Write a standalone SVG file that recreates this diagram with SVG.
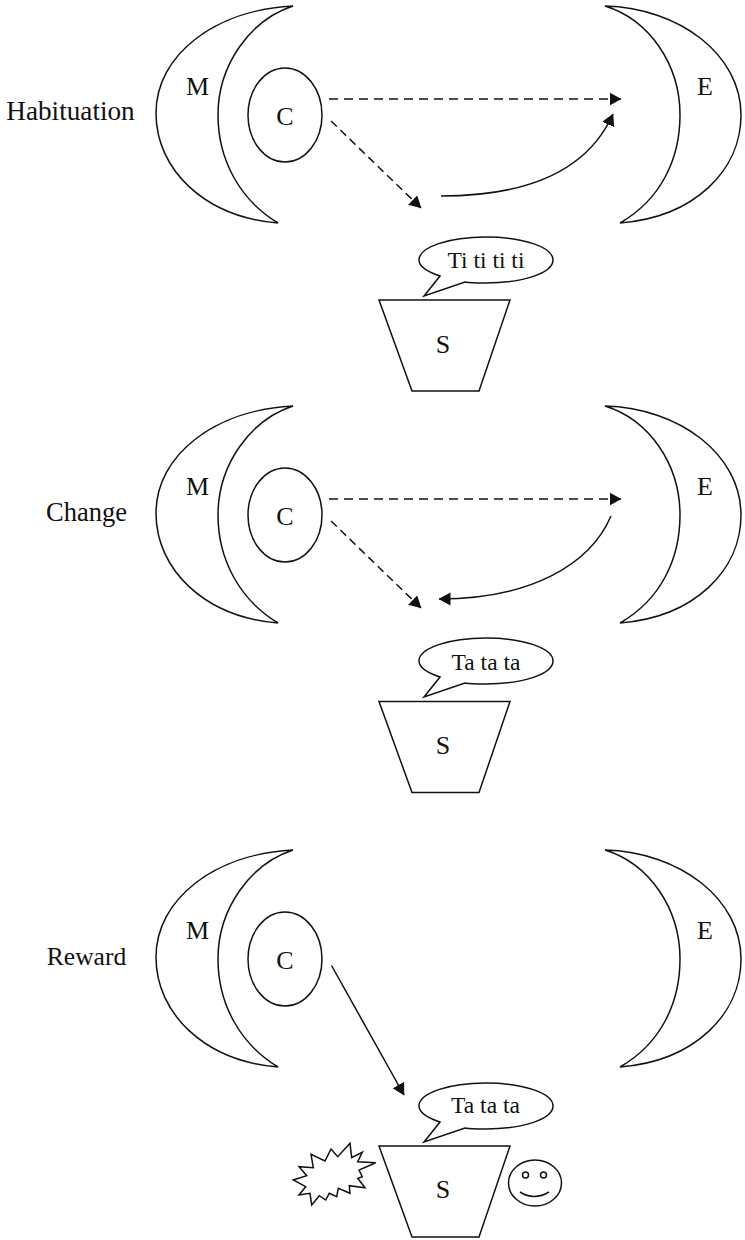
<svg xmlns="http://www.w3.org/2000/svg" xmlns:xlink="http://www.w3.org/1999/xlink" width="745" height="1240" viewBox="0 0 745 1240">
<style>
.s{fill:#fff;stroke:#111;stroke-width:1.5;stroke-linejoin:miter}
.n{fill:none;stroke:#111;stroke-width:1.5}
.d{stroke-dasharray:9 6}
.d2{stroke-dasharray:8 5}
.a{marker-end:url(#arrow)}
text{font-family:"Liberation Serif","Times New Roman",serif;font-size:26px;fill:#111;text-anchor:middle}
.b{font-size:23.5px}
</style>
<defs>
<marker id="arrow" markerUnits="userSpaceOnUse" markerWidth="14" markerHeight="14" refX="11.5" refY="6.5" orient="auto"><path d="M0,0L12,6.5L0,13Z" fill="#111"/></marker>
<g id="mshape"><path class="s" d="M293,6C215,10 156,55 156,113C156,170 205,217 278,223C240,200 218,160 218,115C218,65 250,20 293,6Z"/></g>
<g id="eshape"><path class="s" d="M605,6C680,8 741,55 741,115C741,170 695,217 620,223C660,200 680,160 680,115C680,65 650,20 605,6Z"/></g>
<g id="bubble"><path class="s" d="M440,276C428,272 419,267 419,260C419,247 449,237 486,237C523,237 553,247 553,260C553,273 523,283 486,283C477,283 470,283 465,282L424,296Z"/></g>
<g id="bucket"><path class="s" d="M379,300H510L479,391H412Z"/></g>
</defs>
<g id="panel-labels">
<text x="70.5" y="120" style="font-size:27.2px">Habituation</text>
<text x="86.5" y="521" style="font-size:26.5px">Change</text>
<text x="86.5" y="965" style="font-size:25.6px">Reward</text>
</g>
<g id="m1"><use href="#mshape"/><text x="197.5" y="95">M</text></g>
<g id="c1"><ellipse class="s" cx="285" cy="115" rx="37" ry="47"/><text x="285" y="124.5">C</text></g>
<g id="e1"><use href="#eshape"/><text x="705" y="95">E</text></g>
<g id="speech1"><use href="#bubble"/><text class="b" x="486" y="268">Ti ti ti ti</text></g>
<g id="s1"><use href="#bucket"/><text x="443" y="353">S</text></g>
<g id="m2"><use href="#mshape" y="400"/><text x="197.5" y="495">M</text></g>
<g id="c2"><ellipse class="s" cx="285" cy="515" rx="37" ry="47"/><text x="285" y="524.5">C</text></g>
<g id="e2"><use href="#eshape" y="400"/><text x="705" y="495">E</text></g>
<g id="speech2"><use href="#bubble" y="401"/><text class="b" x="486" y="670">Ta ta ta</text></g>
<g id="s2"><use href="#bucket" y="401.5"/><text x="443" y="754">S</text></g>
<g id="m3"><use href="#mshape" y="844"/><text x="197.5" y="939">M</text></g>
<g id="c3"><ellipse class="s" cx="285" cy="959" rx="37" ry="47"/><text x="285" y="968.5">C</text></g>
<g id="e3"><use href="#eshape" y="844"/><text x="705" y="939">E</text></g>
<g id="speech3"><use href="#bubble" y="846"/><text class="b" x="485.5" y="1113">Ta ta ta</text></g>
<g id="s3"><use href="#bucket" y="846"/><text x="443" y="1198">S</text></g>
<g id="burst"><polygon class="s" points="350,1143.3 351.7,1157.7 362.3,1152.3 357.7,1161.7 375.7,1162.7 359,1170 362.3,1176.7 357.7,1178.3 365,1187.7 349.3,1185.7 350,1193.3 338.3,1188.3 336.7,1196.7 329.3,1193.3 325.7,1200 319.3,1195.7 311.7,1205 310,1193.3 299,1195 305.7,1186.7 293.3,1180 306.7,1175.7 299,1166.7 313.3,1167.7 311,1154.3 325,1161 331,1149 337.7,1156.7"/></g>
<g id="smiley"><ellipse class="s" cx="535" cy="1183" rx="26.5" ry="23"/><circle class="s" cx="525.5" cy="1175" r="3"/><circle class="s" cx="543.5" cy="1175" r="3"/><path class="n" d="M520,1192Q534,1201 549,1192"/></g>
<g id="connectors">
<path class="n d a" d="M329,99H621"/>
<path class="n d2 a" d="M331,121L421,208"/>
<path class="n a" d="M441,196C530,196 588,170 613,114"/>
<path class="n d a" d="M329,499H621"/>
<path class="n d2 a" d="M331,521L421,608"/>
<path class="n a" d="M611,516C590,565 530,599 439,599"/>
<path class="n a" d="M331.5,965.5L404,1095"/>
</g>
</svg>
